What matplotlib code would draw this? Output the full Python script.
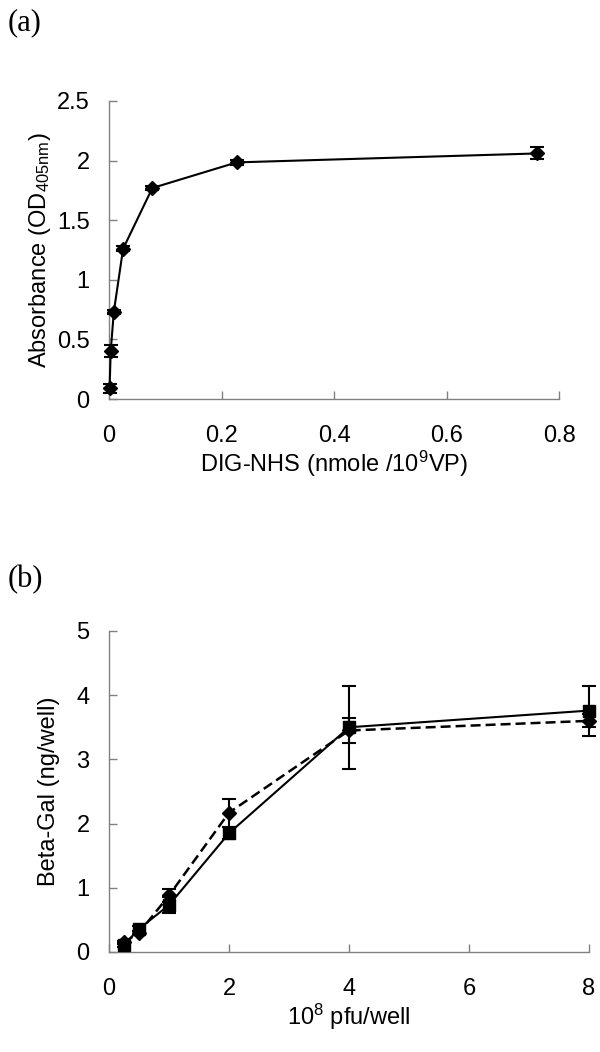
import numpy as np
import matplotlib
matplotlib.use("Agg")
import matplotlib.pyplot as plt
from matplotlib.ticker import FuncFormatter, MultipleLocator

plt.rcParams['font.family'] = ['Liberation Sans', 'DejaVu Sans']
plt.rcParams['mathtext.fontset'] = 'custom'
plt.rcParams['mathtext.rm'] = 'Liberation Sans'
plt.rcParams['mathtext.it'] = 'Liberation Sans'

# panel (a): absorbance vs DIG-NHS
dig_nhs = [0.001, 0.003, 0.0085, 0.025, 0.077, 0.227, 0.761]
absorb = [0.09, 0.40, 0.73, 1.26, 1.77, 1.985, 2.06]
absorb_err = [0.04, 0.05, 0.02, 0.02, 0.02, 0.02, 0.05]

# panel (b): beta-gal vs pfu/well
pfu = [0.25, 0.5, 1, 2, 4, 8]
gal_sq = [0.11, 0.36, 0.73, 1.85, 3.50, 3.76]
gal_sq_err = [0.03, 0.04, 0.13, 0.09, 0.65, 0.39]
gal_dm = [0.15, 0.30, 0.88, 2.17, 3.45, 3.60]
gal_dm_err = [0.02, 0.03, 0.10, 0.22, 0.20, 0.10]

fig = plt.figure(figsize=(6, 10.52), dpi=100)
fmt = FuncFormatter(lambda v, p: '%g' % v)
FS = 17


def style(ax):
    for s in ['top', 'right']:
        ax.spines[s].set_visible(False)
    for s in ['left', 'bottom']:
        ax.spines[s].set_color('#808080')
        ax.spines[s].set_linewidth(1.0)
    ax.tick_params(direction='in', length=6, width=1.0, color='#808080',
                   labelsize=FS, labelcolor='black')
    ax.tick_params(axis='x', pad=19)
    ax.tick_params(axis='y', pad=14)
    ax.xaxis.set_major_formatter(fmt)
    ax.yaxis.set_major_formatter(fmt)


ax1 = fig.add_axes([0.1817, 0.6207, 0.75, 0.2833])
ax1.errorbar(dig_nhs, absorb, yerr=absorb_err, color='black', lw=1.5,
             marker='D', markersize=7.5, capsize=5, capthick=1.5, elinewidth=1.5,
             clip_on=False, zorder=3)
ax1.set_xlim(0, 0.8)
ax1.set_ylim(0, 2.5)
ax1.xaxis.set_major_locator(MultipleLocator(0.2))
ax1.yaxis.set_major_locator(MultipleLocator(0.5))
style(ax1)
ax1.set_xlabel('DIG-NHS (nmole /10$^{9}$VP)', fontsize=FS, labelpad=1)
ax1.set_ylabel('Absorbance (OD$_{\\mathrm{405nm}}$)', fontsize=FS, labelpad=3)

ax2 = fig.add_axes([0.1817, 0.0951, 0.80, 0.3051])
ax2.errorbar(pfu, gal_dm, yerr=gal_dm_err, color='black', lw=1.8,
             dashes=(4, 2), marker='D', markersize=7, capsize=5,
             capthick=1.5, elinewidth=1.5, clip_on=False, zorder=3)
ax2.errorbar(pfu, gal_sq, yerr=gal_sq_err, color='black', lw=1.5,
             marker='s', markersize=8, capsize=5, capthick=1.5,
             elinewidth=1.5, clip_on=False, zorder=4)
ax2.set_xlim(0, 8)
ax2.set_ylim(0, 5)
ax2.xaxis.set_major_locator(MultipleLocator(2))
ax2.yaxis.set_major_locator(MultipleLocator(1))
style(ax2)
ax2.set_xlabel('10$^{8}$ pfu/well', fontsize=FS, labelpad=1)
ax2.set_ylabel('Beta-Gal (ng/well)', fontsize=FS, labelpad=12)

fig.text(0.012, 0.978, '(a)', fontsize=22, family='Liberation Serif',
         va='center', ha='left')
fig.text(0.012, 0.449, '(b)', fontsize=22, family='Liberation Serif',
         va='center', ha='left')

fig.savefig('out.png', dpi=100)
